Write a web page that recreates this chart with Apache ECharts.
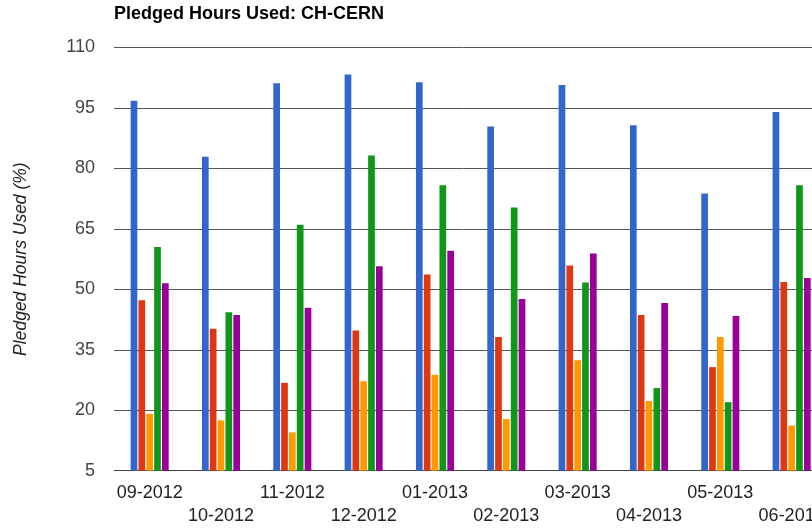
<!DOCTYPE html>
<html>
<head>
<meta charset="utf-8">
<script src="https://cdn.jsdelivr.net/npm/echarts@6/dist/echarts.min.js"></script>
<style>
  html, body { margin: 0; padding: 0; background: #fff; }
  #chart { width: 812px; height: 528px; }
</style>
</head>
<body>
<div id="chart"></div>
<script>
// months shown on the x axis
const months = ['09-2012', '10-2012', '11-2012', '12-2012', '01-2013',
  '02-2013', '03-2013', '04-2013', '05-2013', '06-2013'];

// pledged hours used (%), one array per bar colour
const blueVals = [96.8, 82.9, 101.1, 103.3, 101.4, 90.4, 100.7, 90.7, 73.8, 94.0];
const redVals = [47.3, 40.2, 26.8, 39.8, 53.7, 38.2, 55.9, 43.6, 30.7, 51.8];
const orangeVals = [19.1, 17.5, 14.5, 27.2, 28.8, 17.8, 32.4, 22.3, 38.2, 16.2];
const greenVals = [60.5, 44.3, 66.0, 83.2, 75.8, 70.3, 51.7, 25.5, 22.0, 75.8];
const purpleVals = [51.5, 43.6, 45.4, 55.7, 59.6, 47.6, 58.9, 46.6, 43.4, 52.8];

const seriesNames = ['Series 1', 'Series 2', 'Series 3', 'Series 4', 'Series 5'];
const seriesData = [blueVals, redVals, orangeVals, greenVals, purpleVals];
const colors = ['#3366cc', '#dc3912', '#ff9900', '#109618', '#990099'];

const chart = echarts.init(document.getElementById('chart'), null, {renderer: 'canvas'});

const FONT = 'Liberation Sans, Arial, sans-serif';

let series = seriesData.map((d, i) => {
  return {
    name: seriesNames[i],
    type: 'bar',
    data: d,
    barWidth: 6.7,
    barGap: '17%',
    itemStyle: {color: colors[i]},
    animation: false
  };
});

let option = {
  animation: false,
  title: {
    text: 'Pledged Hours Used: CH-CERN',
    left: 114,
    top: 5,
    padding: 0,
    textStyle: {
      fontFamily: FONT,
      fontSize: 18,
      fontWeight: 'bold',
      color: '#000'
    }
  },
  // the chart is wider than the window: last month is cut off on the right
  grid: {
    left: 114,
    top: 47.5,
    bottom: 57.3,
    width: 713.3,
    containLabel: false,
    outerBoundsMode: 'none'
  },
  xAxis: {
    type: 'category',
    data: months,
    axisTick: {show: false},
    axisLine: {lineStyle: {color: '#444', width: 1}},
    axisLabel: {
      interval: 0,
      margin: 11,
      fontFamily: FONT,
      fontSize: 18,
      lineHeight: 23,
      color: '#222',
      verticalAlign: 'top',
      hideOverlap: false,
      formatter: (v, i) => (i % 2 ? '\n' + v : v)
    }
  },
  yAxis: {
    type: 'value',
    min: 5,
    max: 110,
    interval: 15,
    name: 'Pledged Hours Used (%)',
    nameLocation: 'middle',
    nameRotate: 90,
    nameGap: 84,
    nameTextStyle: {
      fontFamily: FONT,
      fontSize: 17.5,
      fontStyle: 'italic',
      color: '#222'
    },
    axisLine: {show: false},
    axisTick: {show: false},
    axisLabel: {
      margin: 19,
      fontFamily: FONT,
      fontSize: 18,
      color: '#444'
    },
    splitLine: {lineStyle: {color: '#555', width: 1}}
  },
  series: series
};

chart.setOption(option);
</script>
</body>
</html>
